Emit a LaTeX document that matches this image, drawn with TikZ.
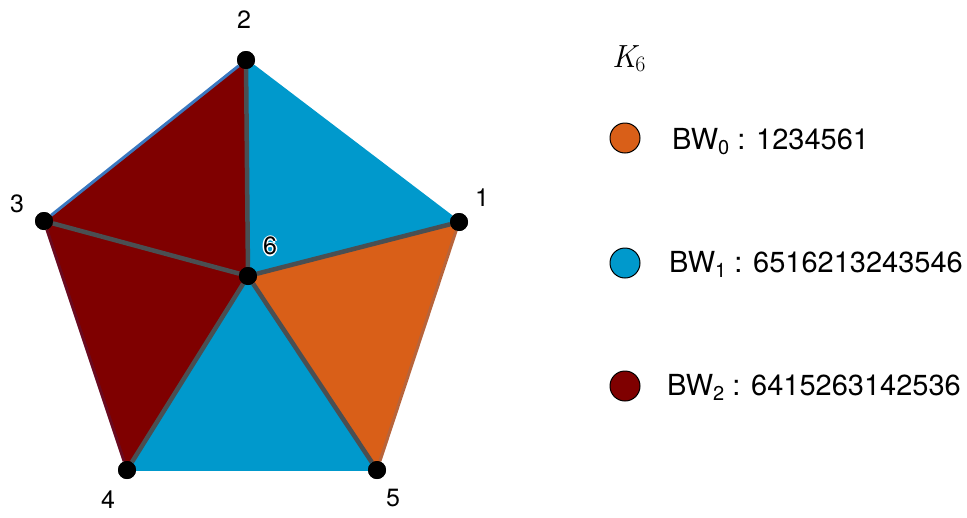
\documentclass[tikz,border=0pt]{standalone}
\usepackage{fontspec}
\setsansfont{TeX Gyre Heros}
\definecolor{bworange}{HTML}{D95F18}
\definecolor{bwblue}{HTML}{0099CC}
\definecolor{bwred}{HTML}{7F0000}
\definecolor{spoke}{HTML}{4A4F52}
\definecolor{edgeblue}{HTML}{3A78C0}
\definecolor{edgered}{HTML}{6A0A20}
\definecolor{edgeorange}{HTML}{B8643A}
\newcommand{\mysub}[1]{\raisebox{-5pt}{\fontsize{20}{23}\selectfont #1}}
\begin{document}
\begin{tikzpicture}[x=1pt,y=-1pt,
  vert/.style={circle,fill=black,inner sep=0pt,minimum size=18pt},
  vlabel/.style={font=\sffamily\fontsize{25}{29}\selectfont,inner sep=0pt},
  spokeline/.style={draw=spoke,line width=4.5pt},
  legdot/.style={circle,draw=black,line width=1pt,minimum size=30pt,inner sep=0pt},
  legtext/.style={font=\sffamily\fontsize{29}{33}\selectfont,anchor=base west,inner sep=0pt}]
\useasboundingbox (0,0) rectangle (967,517);
% vertex coordinates
\coordinate (p1) at (459,222);
\coordinate (p2) at (246,60);
\coordinate (p3) at (44,221);
\coordinate (p4) at (127,470);
\coordinate (p5) at (377,470);
\coordinate (p6) at (248,276);
% faces
\fill[bwblue] (p6) -- (p2) -- (p1) -- cycle;
\fill[bworange] (p6) -- (p1) -- (p5) -- cycle;
\fill[bwblue] (p6) -- (p5) -- (p4) -- cycle;
\fill[bwred] (p6) -- (p4) -- (p3) -- cycle;
\fill[bwred] (p6) -- (p3) -- (p2) -- cycle;
% vertices
\node[vert] (v1) at (p1) {};
\node[vert] (v2) at (p2) {};
\node[vert] (v3) at (p3) {};
\node[vert] (v4) at (p4) {};
\node[vert] (v5) at (p5) {};
\node[vert] (v6) at (p6) {};
% outer edges
\draw[draw=bwblue,line width=2.5pt] (v1) -- (v2);
\draw[draw=edgeblue,line width=3pt] (v2) -- (v3);
\draw[draw=edgered,line width=3pt] (v3) -- (v4);
\draw[draw=bwblue,line width=2.5pt] (v4) -- (v5);
\draw[draw=edgeorange,line width=3pt] (v5) -- (v1);
% spokes
\foreach \i in {1,...,5} {\draw[spokeline] (v6) -- (v\i);}
% redraw vertices on top
\foreach \i in {1,...,6} {\fill[black] (p\i) circle (9pt);}
% labels
\node[vlabel] (l1) at (482,198) {1};
\node[vlabel] (l2) at (244,20) {2};
\node[vlabel] (l3) at (17,204) {3};
\node[vlabel] (l4) at (108,500) {4};
\node[vlabel] (l5) at (393,498) {5};
\foreach \dx/\dy in {1.5/0,-1.5/0,0/1.5,0/-1.5}
  {\node[vlabel,text=white] at (270+\dx,246+\dy) {6};}
\node[vlabel] (l6) at (270,246) {6};
% legend
\node[anchor=base west,inner sep=0pt] (k6) at (612,67)
  {{\fontsize{32}{36}\selectfont\itshape K}\kern-1pt\raisebox{-4pt}{\fontsize{22}{26}\selectfont 6}};
\node[legdot,fill=bworange] (d0) at (625,138) {};
\node[legdot,fill=bwblue] (d1) at (625,263) {};
\node[legdot,fill=bwred] (d2) at (625,386) {};
\node[legtext] (t0) at (672,149) {BW\mysub{0} : 1234561};
\node[legtext] (t1) at (669,272) {BW\mysub{1} : 6516213243546};
\node[legtext] (t2) at (667,395) {BW\mysub{2} : 6415263142536};
\end{tikzpicture}
\end{document}
